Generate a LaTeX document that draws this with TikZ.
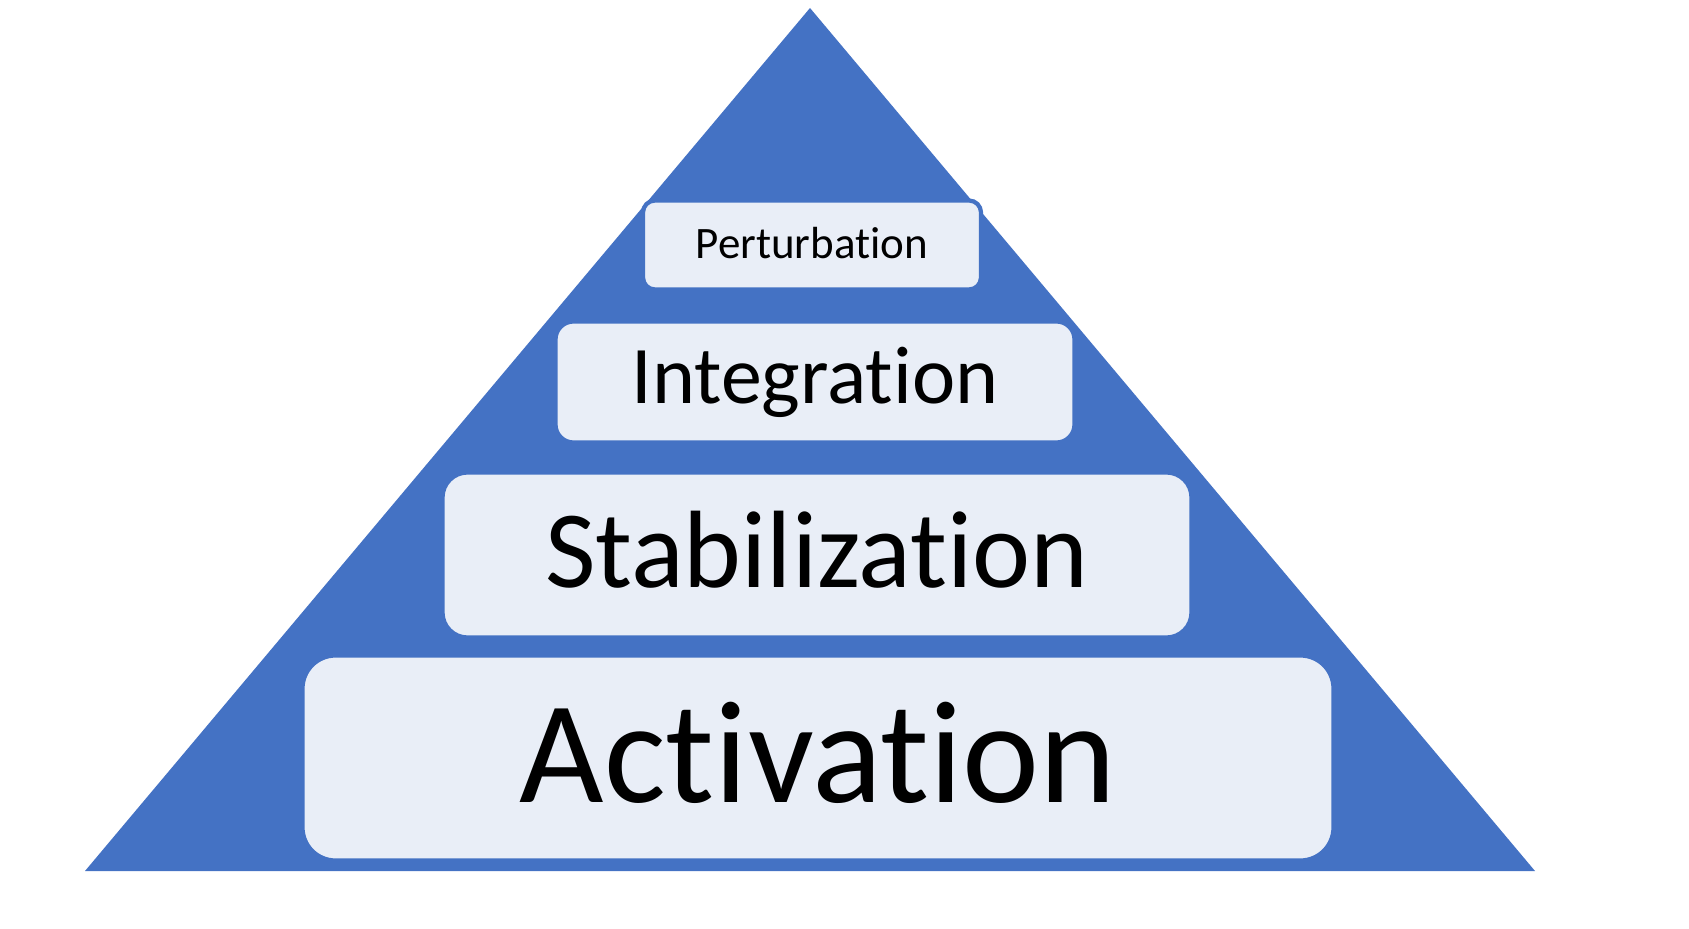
\documentclass[tikz,border=0pt]{standalone}
\usepackage{fontspec}
\setmainfont{Carlito}[Ligatures={NoCommon}]
\usepackage{tikz}
\usetikzlibrary{positioning, calc}
\definecolor{pyrblue}{HTML}{4472C4}
\definecolor{tierfill}{HTML}{E9EEF7}

\begin{document}
\begin{tikzpicture}[
    x=0.1mm, y=-0.1mm,
    % --- STYLES ---
    pyramid/.style={fill=pyrblue, draw=none},
    tier/.style={rectangle, draw=pyrblue, line width=1.2pt, fill=tierfill, align=center, inner sep=0pt}
]
\useasboundingbox (0,0) rectangle (1689,929);

% --- 1. PYRAMID ---
\coordinate (apex) at (810,8);
\coordinate (base_l) at (85,871);
\coordinate (base_r) at (1535,871);
\fill[pyramid] (apex) -- (base_r) -- (base_l) -- cycle;

% --- 2. TIERS (top to bottom) ---
\node[tier, rounded corners=1.2mm, minimum width=3.38cm, minimum height=0.89cm, text height=9pt, text depth=1.6pt,
      font=\fontsize{12.8}{15}\selectfont] (P) at (812,245) {Perturbation};
\node[tier, rounded corners=1.8mm, minimum width=5.19cm, minimum height=1.21cm,
      font=\fontsize{23.3}{28}\selectfont] (I) at (815,382) {Integration};
\node[tier, rounded corners=2.5mm, minimum width=7.49cm, minimum height=1.65cm, text depth=3pt,
      font=\fontsize{31.3}{38}\selectfont] (S) at (817,555) {Stabilization};
\node[tier, rounded corners=3.3mm, minimum width=10.31cm, minimum height=2.05cm, text depth=3pt,
      font=\fontsize{41.5}{50}\selectfont] (A) at (818,758) {Activation};

\end{tikzpicture}
\end{document}
